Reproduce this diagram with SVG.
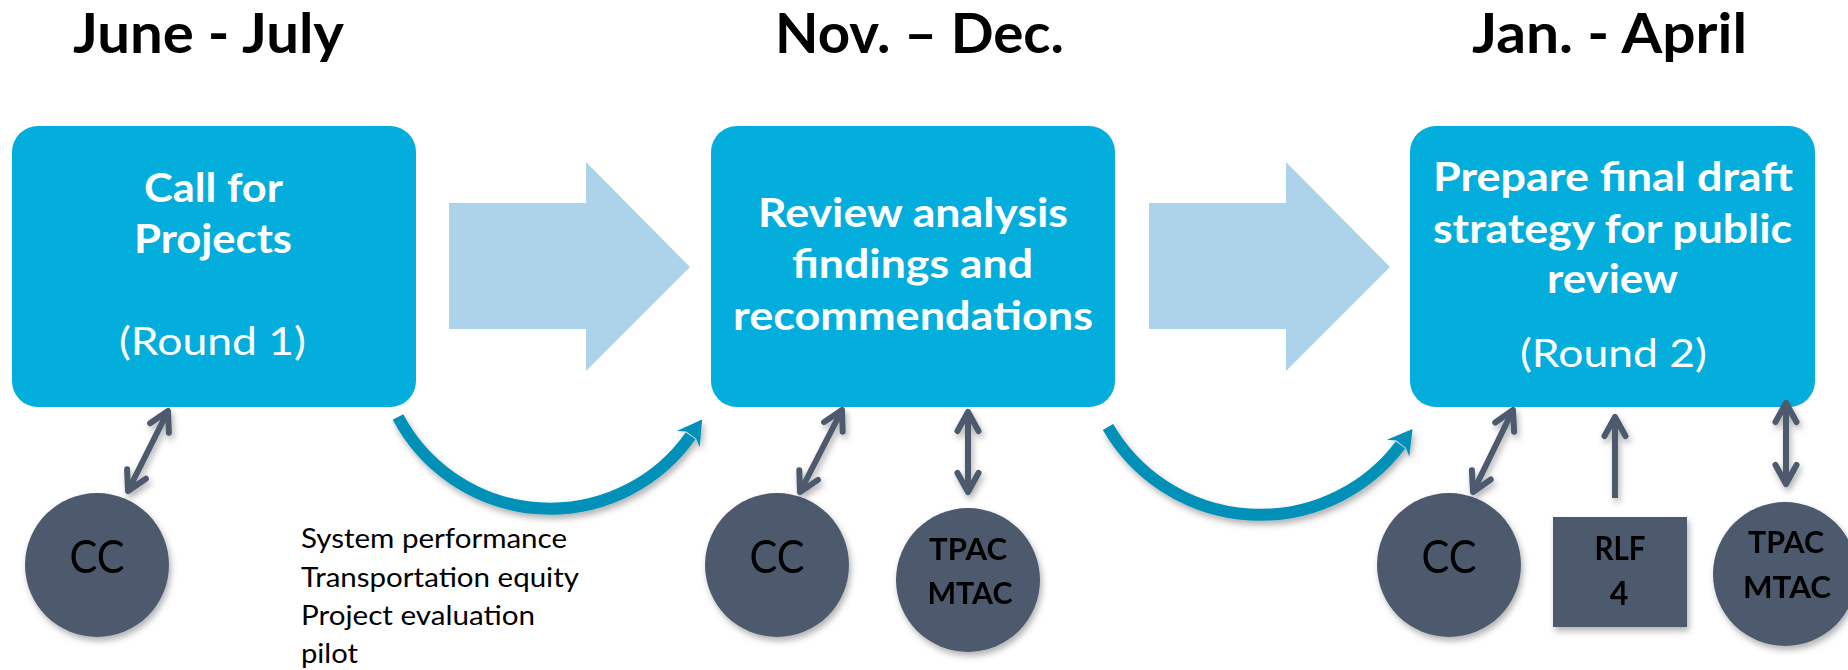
<svg xmlns="http://www.w3.org/2000/svg" width="1848" height="670" viewBox="0 0 1848 670">
<defs>
<style>
.title{font-family:Lato,"Open Sans","Liberation Sans",sans-serif;font-weight:bold;font-size:55px;fill:#000;text-anchor:middle}
.box{fill:#03AEDC}
.bt{font-family:Lato,"Open Sans","Liberation Sans",sans-serif;font-weight:bold;font-size:40px;fill:#fff;text-anchor:middle}
.br{font-family:Lato,"Open Sans","Liberation Sans",sans-serif;font-size:39px;fill:#fff;text-anchor:middle}
.big{fill:#ADD3EA}
.node{fill:#4E5A6E}
.cc{font-family:Lato,"Open Sans","Liberation Sans",sans-serif;font-size:47px;fill:#000;text-anchor:middle}
.nb{font-family:Lato,"Open Sans","Liberation Sans",sans-serif;font-weight:bold;font-size:30px;fill:#000;text-anchor:middle}
.list{font-family:Lato,"Open Sans","Liberation Sans",sans-serif;font-size:27px;fill:#000}
.curve{fill:none;stroke:#0090B8;stroke-width:12}
.dark{fill:none;stroke:#4E5A6E;stroke-width:6}
</style>
<filter id="sh" x="-20%" y="-20%" width="140%" height="140%">
<feDropShadow dx="2" dy="4" stdDeviation="3" flood-color="#000" flood-opacity="0.3"/>
</filter>
<marker id="ch" viewBox="-24 -14 28 28" refX="0" refY="0" markerWidth="28" markerHeight="28" markerUnits="userSpaceOnUse" orient="auto-start-reverse">
<path d="M-19,-10.5 L0,0 L-19,10.5" fill="none" stroke="#4E5A6E" stroke-width="6" stroke-linecap="round" stroke-linejoin="round"/>
</marker>
<marker id="bh" viewBox="-6 -16 30 32" refX="0" refY="0" markerWidth="30" markerHeight="32" markerUnits="userSpaceOnUse" orient="auto">
<path d="M20,0 L-4,-14 L1,-6 L1,6 L-4,14 Z" fill="#0090B8"/>
</marker>
</defs>
<rect width="1848" height="670" fill="#fff"/>

<g id="titles">
<text class="title" x="208.5" y="53" textLength="271" lengthAdjust="spacingAndGlyphs">June - July</text>
<text class="title" x="919.5" y="53" textLength="289" lengthAdjust="spacingAndGlyphs">Nov. – Dec.</text>
<text class="title" x="1609.5" y="53" textLength="275" lengthAdjust="spacingAndGlyphs">Jan. - April</text>
</g>

<g id="step1">
<rect class="box" x="12" y="126" width="404" height="281" rx="26"/>
<text class="bt" x="213.5" y="202" textLength="139" lengthAdjust="spacingAndGlyphs">Call for</text>
<text class="bt" x="213" y="253" textLength="158" lengthAdjust="spacingAndGlyphs">Projects</text>
<text class="br" x="212.5" y="355" textLength="187" lengthAdjust="spacingAndGlyphs">(Round 1)</text>
</g>

<g id="step2">
<rect class="box" x="711" y="126" width="404" height="281" rx="26"/>
<text class="bt" x="913" y="227" textLength="310" lengthAdjust="spacingAndGlyphs">Review analysis</text>
<text class="bt" x="912.5" y="278" textLength="241" lengthAdjust="spacingAndGlyphs">findings and</text>
<text class="bt" x="913" y="330" textLength="360" lengthAdjust="spacingAndGlyphs">recommendations</text>
</g>

<g id="step3">
<rect class="box" x="1410" y="126" width="405" height="281" rx="26"/>
<text class="bt" x="1613" y="191" textLength="360" lengthAdjust="spacingAndGlyphs">Prepare final draft</text>
<text class="bt" x="1612.5" y="243" textLength="359" lengthAdjust="spacingAndGlyphs">strategy for public</text>
<text class="bt" x="1612.5" y="293" textLength="131" lengthAdjust="spacingAndGlyphs">review</text>
<text class="br" x="1613.5" y="367" textLength="187" lengthAdjust="spacingAndGlyphs">(Round 2)</text>
</g>

<g id="cc1" filter="url(#sh)">
<circle class="node" cx="97" cy="565" r="72"/>
<text class="cc" x="97" y="573" textLength="55" lengthAdjust="spacingAndGlyphs">CC</text>
</g>

<g id="cc2" filter="url(#sh)">
<circle class="node" cx="777" cy="565" r="72"/>
<text class="cc" x="777" y="573" textLength="55" lengthAdjust="spacingAndGlyphs">CC</text>
</g>

<g id="tpac2" filter="url(#sh)">
<circle class="node" cx="968" cy="580" r="72"/>
<text class="nb" x="968" y="560" textLength="78" lengthAdjust="spacingAndGlyphs">TPAC</text>
<text class="nb" x="970" y="604" textLength="85" lengthAdjust="spacingAndGlyphs">MTAC</text>
</g>

<g id="cc3" filter="url(#sh)">
<circle class="node" cx="1449" cy="565" r="72"/>
<text class="cc" x="1449" y="573" textLength="55" lengthAdjust="spacingAndGlyphs">CC</text>
</g>

<g id="rlf" filter="url(#sh)">
<rect class="node" x="1553" y="517" width="134" height="110"/>
<text class="nb" x="1620" y="560" style="font-size:32px" textLength="51" lengthAdjust="spacingAndGlyphs">RLF</text>
<text class="nb" x="1619" y="605" style="font-size:32px">4</text>
</g>

<g id="tpac3" filter="url(#sh)">
<circle class="node" cx="1785" cy="574" r="72"/>
<text class="nb" x="1786" y="553" textLength="76" lengthAdjust="spacingAndGlyphs">TPAC</text>
<text class="nb" x="1787" y="598" textLength="88" lengthAdjust="spacingAndGlyphs">MTAC</text>
</g>

<g id="notes">
<text class="list" x="301" y="548" textLength="266" lengthAdjust="spacingAndGlyphs">System performance</text>
<text class="list" x="301" y="587" textLength="278" lengthAdjust="spacingAndGlyphs">Transportation equity</text>
<text class="list" x="301" y="625" textLength="234" lengthAdjust="spacingAndGlyphs">Project evaluation</text>
<text class="list" x="301" y="663" textLength="57" lengthAdjust="spacingAndGlyphs">pilot</text>
</g>

<g id="connectors">
<path class="big" d="M449,203 H586 V162 L690,267 L586,371 V329 H449 Z"/>
<path class="big" d="M1149,203 H1286 V162 L1390,267 L1286,371 V329 H1149 Z"/>
<g filter="url(#sh)">
<path class="curve" d="M398,417 A172,172 0 0 0 690.6,435.9" marker-end="url(#bh)"/>
<path class="curve" d="M1108,427 A175.8,175.8 0 0 0 1400.5,445" marker-end="url(#bh)"/>
<path class="dark" d="M168,411 L128,491" marker-start="url(#ch)" marker-end="url(#ch)"/>
<path class="dark" d="M842,410 L800,492" marker-start="url(#ch)" marker-end="url(#ch)"/>
<path class="dark" d="M968,412 L968,492" marker-start="url(#ch)" marker-end="url(#ch)"/>
<path class="dark" d="M1513,410 L1473,492" marker-start="url(#ch)" marker-end="url(#ch)"/>
<path class="dark" d="M1615,498 L1615,417" marker-end="url(#ch)"/>
<path class="dark" d="M1786,403 L1786,484" marker-start="url(#ch)" marker-end="url(#ch)"/>
</g>
</g>
</svg>
